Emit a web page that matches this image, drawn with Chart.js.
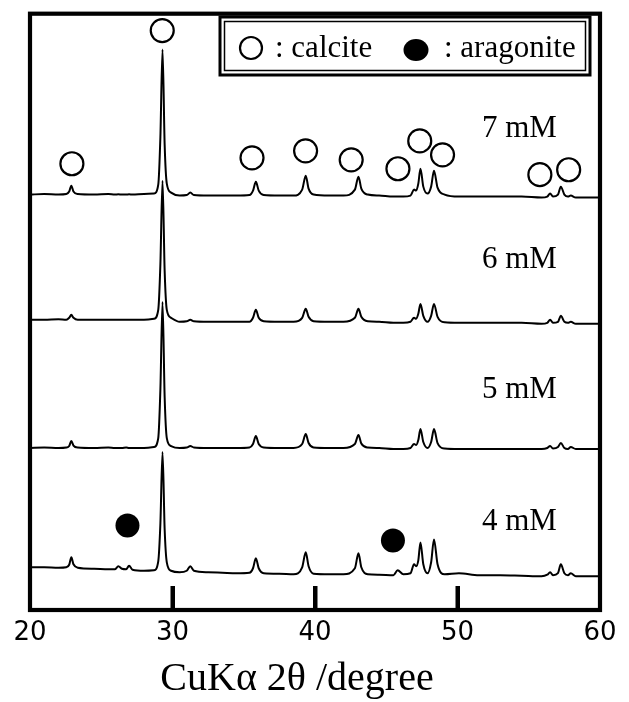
<!DOCTYPE html>
<html>
<head>
<meta charset="utf-8">
<script src="https://cdn.jsdelivr.net/npm/chart.js@4/dist/chart.umd.min.js"></script>
<style>
html,body{margin:0;padding:0;background:#fff;}
#wrap{width:629px;height:702px;position:relative;}
</style>
</head>
<body>
<div id="wrap"><canvas id="c"></canvas></div>
<script>
// 2θ grid (degree)
const twoTheta = [20.0,21.0,22.0,22.55,22.75,22.9,23.05,23.35,24.5,25.5,
  25.95,26.2,26.45,26.75,26.95,27.2,28.0,28.7,29.0,29.15,
  29.3,29.45,29.6,29.9,30.5,31.0,31.25,31.5,32.5,33.5,
  34.5,35.4,35.65,35.85,36.05,36.4,37.5,38.5,39.1,39.35,
  39.55,39.9,41.0,42.0,42.8,43.05,43.25,43.7,44.5,45.5,
  45.8,46.2,46.7,46.95,47.1,47.25,47.4,47.6,47.9,48.15,
  48.35,48.6,49.1,50.1,51.5,53.0,54.5,55.9,56.3,56.5,
  56.7,57.05,57.25,57.5,57.75,57.95,58.3,59.0,60.0];

// intensities (relative to each pattern's own baseline, arbitrary units)
const i7mM = [0,0.5,0,0.5,3,9,3,0.5,0,0.5,
  0,0.3,0,0,0.3,0,0.5,1,10,58,
  146,50,11,2,-1,-0.5,2,-0.5,-1,-1,
  -1,-0.5,4,13,4,-0.5,-1,-1,5,19,
  6,0,-1,-1,5,18,6,0,-1,-2,
  -2,-2,-1,5,4,11,26,8,1,8,
  24,7,0,-2,-2,-2,-2,-3,-2,1,
  -2,0,8,0,-2,-1,-3,-3,-3];
const i6mM = [0,0,0.5,0,2,5,2,0,0,0,
  0,0,0,0,0,0,0,1,10,56,
  140,49,10,2,-2,-1.5,0,-1.5,-2,-2,
  -2,-2,2,10,2,-1.5,-2,-2,2,11,
  3,-1.5,-2,-2,2,11,3,-1.5,-2,-3,
  -3,-3,-2,2,1,6,16,4,-2,4,
  16,3,-2.5,-3,-3,-3,-3,-4,-3,0,
  -3,-2,4,-2,-3,-2,-4,-4,-4];
const i5mM = [0,0.5,0,0.5,2,7,2.5,0.5,0,0.5,
  0,0,0,0.5,0,0,0,1,10,59,
  147,51,10,2,0,0.5,2,0.5,0,0,
  0,0.5,4,12,4,0.5,0,0,4,14,
  5,0.5,0,0,4,13,4.5,0.5,0,-1,
  -1,-1,0,4,3,8,19,6,0,6,
  19,5,-0.5,-1,-1,-1,-1,-1,0,2,
  -0.5,1,5,0,-1,1,-1,-1,-1];
const i4mM = [0,0,-0.5,0,2.5,10,3,-0.5,-1.5,-2,
  -2,1,-1.5,-2,1.5,-2.5,-3.5,-3,6,44,
  116,38,5,-3.5,-5,-3.5,1,-3.5,-5,-5.5,
  -6,-5.5,-1,9,-1,-6,-6.5,-7,0,15,
  1,-6.5,-7,-7,-1,14,0,-7,-7.5,-8,
  -3,-7,-6,3,1,7,25,3,-6,5,
  28,3,-7,-6,-8,-8,-8.5,-9,-7.5,-5,
  -8,-6,3,-6,-8,-6,-9,-9,-9];

const sampleNames = ['7 mM','6 mM','5 mM','4 mM'];
const baselineOffsets = [418, 292, 163, 43];

// phase markers (2θ, height in same units)
const calciteX = [22.94,29.28,35.58,39.34,42.54,45.82,47.35,48.95,55.78,57.8];
const calciteY = [449,583,455,462,453,444,472,458,438,443];
const aragoniteX = [26.84,45.47];
const aragoniteY = [85,70];

const xTicks = [20,30,40,50,60];
const innerTicks = [30,40,50];

const intensities = [i7mM, i6mM, i5mM, i4mM];

const SERIF = '"Liberation Serif","Times New Roman",serif';

const datasets = sampleNames.map((name, k) => ({
  label: name,
  data: twoTheta.map((t, i) => ({x: t, y: baselineOffsets[k] + intensities[k][i]})),
  showLine: true,
  borderColor: '#000',
  borderWidth: 2,
  pointRadius: 0,
  fill: false,
  cubicInterpolationMode: 'monotone'
}));
datasets.push({
  label: 'calcite',
  data: calciteX.map((t, i) => ({x: t, y: calciteY[i]})),
  showLine: false,
  pointStyle: 'circle',
  pointRadius: 11.5,
  pointBorderWidth: 2.2,
  pointBorderColor: '#000',
  pointBackgroundColor: 'rgba(255,255,255,0)'
});
datasets.push({
  label: 'aragonite',
  data: aragoniteX.map((t, i) => ({x: t, y: aragoniteY[i]})),
  showLine: false,
  pointStyle: 'circle',
  pointRadius: 12,
  pointBorderWidth: 0,
  pointBorderColor: '#000',
  pointBackgroundColor: '#000'
});

const framePlugin = {
  id: 'frame',
  afterDatasetsDraw(chart) {
    const ctx = chart.ctx;
    const a = chart.chartArea;
    const xs = chart.scales.x;
    ctx.save();
    // inner tick marks
    ctx.fillStyle = '#000';
    innerTicks.forEach(v => {
      const px = xs.getPixelForValue(v);
      ctx.fillRect(px - 2, a.bottom - 24, 4.5, 24);
    });
    // frame
    ctx.strokeStyle = '#000';
    ctx.lineWidth = 4.2;
    ctx.strokeRect(a.left, a.top, a.right - a.left, a.bottom - a.top);

    // sample labels
    ctx.font = '31px ' + SERIF;
    ctx.textAlign = 'left';
    ctx.textBaseline = 'alphabetic';
    const labelBase = [137, 268, 398, 530];
    sampleNames.forEach((n, k) => ctx.fillText(n, 482, labelBase[k]));

    // legend box (double frame)
    ctx.lineWidth = 3;
    ctx.strokeRect(220, 17, 370, 58);
    ctx.lineWidth = 1.5;
    ctx.strokeRect(224.5, 21.5, 361, 49);
    ctx.lineWidth = 2.2;
    ctx.beginPath();
    ctx.arc(251, 48, 11, 0, Math.PI * 2);
    ctx.stroke();
    ctx.beginPath();
    ctx.ellipse(416, 50, 12.5, 11, 0, 0, Math.PI * 2);
    ctx.fill();
    ctx.fillText(': calcite', 275, 57);
    ctx.fillText(': aragonite', 444, 57);

    // axis title
    ctx.font = '40px ' + SERIF;
    ctx.textAlign = 'center';
    ctx.fillText('CuKα 2θ /degree', 297, 690);
    ctx.restore();
  }
};

new Chart(document.getElementById('c'), {
  type: 'scatter',
  data: {datasets},
  options: {
    responsive: true,
    maintainAspectRatio: false,
    animation: false,
    events: [],
    layout: {padding: {left: 30, right: 29, top: 10, bottom: 0}},
    plugins: {legend: {display: false}, tooltip: {enabled: false}},
    scales: {
      x: {
        type: 'linear',
        min: 20, max: 60,
        afterBuildTicks: s => { s.ticks = xTicks.map(v => ({value: v})); },
        afterFit: s => { s.height = 92; },
        grid: {display: false, drawTicks: false},
        border: {display: false},
        ticks: {
          padding: 8,
          color: '#000',
          font: {family: '"DejaVu Sans", sans-serif', size: 26},
          maxRotation: 0
        }
      },
      y: {
        type: 'linear',
        display: false,
        min: 0, max: 600
      }
    }
  },
  plugins: [framePlugin]
});
</script>
</body>
</html>
